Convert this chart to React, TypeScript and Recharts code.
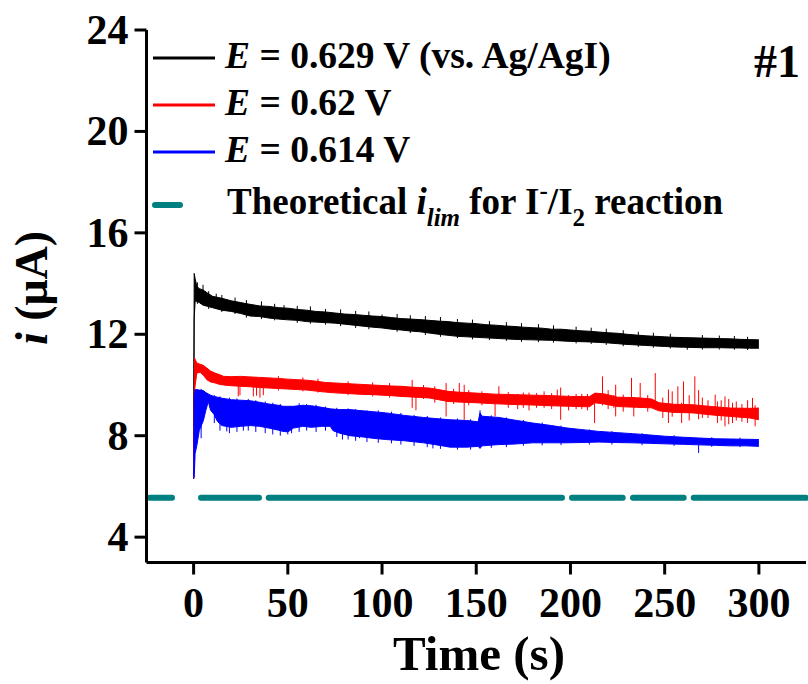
import React from 'react';
import { ComposedChart, Area, Line, XAxis, YAxis, ReferenceLine, Customized } from 'recharts';

const FONT = "'Liberation Serif', 'Times New Roman', Times, serif";

const xTicks = [0, 50, 100, 150, 200, 250, 300];
const yTicks = [4, 8, 12, 16, 20, 24];
const theoreticalILim = 5.55;

// E = 0.629 V  (black) : noise envelope
const blackT = [0, 0.3, 0.8, 1.7, 3, 5, 7.5, 10, 15, 20, 25, 30, 35, 40, 45, 50, 55, 60, 65, 70, 75, 80, 85, 90, 95, 100, 105, 110, 115, 120, 125, 130, 135, 140, 145, 150, 155, 160, 165, 170, 175, 180, 185, 190, 195, 200, 205, 210, 215, 220, 225, 230, 235, 240, 245, 250, 255, 260, 265, 270, 275, 280, 285, 290, 295, 300];
const blackLo = [6.3, 12.6, 13.3, 13.3, 13.25, 13.15, 13.1, 13.05, 12.95, 12.9, 12.82, 12.72, 12.7, 12.64, 12.6, 12.57, 12.55, 12.5, 12.48, 12.46, 12.44, 12.4, 12.36, 12.32, 12.28, 12.25, 12.2, 12.17, 12.13, 12.1, 12.05, 12.0, 11.96, 11.92, 11.9, 11.88, 11.86, 11.84, 11.82, 11.8, 11.79, 11.78, 11.77, 11.76, 11.74, 11.72, 11.71, 11.7, 11.68, 11.66, 11.63, 11.6, 11.58, 11.56, 11.54, 11.52, 11.5, 11.49, 11.48, 11.47, 11.47, 11.47, 11.46, 11.46, 11.45, 11.45];
const blackHi = [6.4, 14.4, 14.2, 13.9, 13.8, 13.75, 13.62, 13.5, 13.42, 13.32, 13.25, 13.18, 13.12, 13.1, 13.05, 13.03, 12.98, 12.95, 12.9, 12.88, 12.84, 12.8, 12.78, 12.75, 12.72, 12.7, 12.66, 12.62, 12.6, 12.58, 12.55, 12.52, 12.5, 12.46, 12.44, 12.42, 12.38, 12.36, 12.33, 12.31, 12.28, 12.26, 12.24, 12.2, 12.2, 12.17, 12.14, 12.12, 12.09, 12.06, 12.04, 12.0, 11.97, 11.94, 11.92, 11.9, 11.88, 11.87, 11.86, 11.85, 11.84, 11.83, 11.82, 11.8, 11.79, 11.78];
const blackSpikeT = [5, 12, 48, 100, 262, 2, 8, 15, 22, 28, 36, 43, 55, 62, 70, 78, 86, 93, 108, 115, 123, 131, 140, 148, 157, 166, 174, 183, 191, 203, 211, 219, 228, 236, 244, 253, 270, 279, 287, 294];
const blackSpikeLo = [13.3, 13.1, 12.7, 12.4, 11.39, 13.2, 13.0, 12.88, 12.8, 12.66, 12.6, 12.55, 12.45, 12.42, 12.38, 12.32, 12.25, 12.2, 12.1, 12.05, 11.97, 11.9, 11.85, 11.8, 11.77, 11.74, 11.7, 11.69, 11.67, 11.64, 11.62, 11.58, 11.53, 11.5, 11.47, 11.44, 11.4, 11.4, 11.39, 11.38];
const blackSpikeHi = [13.95, 13.6, 13.15, 12.78, 11.7, 14.05, 13.7, 13.55, 13.45, 13.35, 13.3, 13.2, 13.12, 13.1, 13.0, 12.98, 12.92, 12.9, 12.8, 12.75, 12.72, 12.68, 12.6, 12.58, 12.52, 12.48, 12.44, 12.4, 12.35, 12.3, 12.26, 12.22, 12.16, 12.1, 12.06, 12.02, 11.97, 11.95, 11.93, 11.9];

// E = 0.62 V (red)
const redT = [0, 0.5, 1.7, 3.4, 5, 7, 9, 11.4, 14, 16, 20, 25, 30, 35, 40, 45, 50, 55, 60, 65, 70, 75, 80, 85, 90, 95, 100, 105, 110, 115, 120, 125, 130, 135, 140, 150, 160, 170, 180, 190, 200, 210, 213, 218, 225, 235, 243, 247, 255, 265, 275, 285, 295, 300];
const redLo = [6.3, 9.8, 10.47, 10.5, 10.4, 10.21, 10.12, 10.08, 10.02, 10.0, 9.97, 9.95, 9.93, 9.9, 9.88, 9.86, 9.84, 9.82, 9.8, 9.76, 9.72, 9.69, 9.67, 9.65, 9.63, 9.62, 9.6, 9.58, 9.55, 9.53, 9.51, 9.49, 9.42, 9.35, 9.33, 9.3, 9.26, 9.23, 9.21, 9.18, 9.16, 9.14, 9.3, 9.25, 9.15, 9.12, 9.1, 8.98, 8.92, 8.9, 8.82, 8.76, 8.7, 8.63];
const redHi = [6.5, 11.06, 10.87, 10.82, 10.78, 10.67, 10.55, 10.47, 10.4, 10.34, 10.33, 10.34, 10.32, 10.3, 10.28, 10.26, 10.23, 10.21, 10.19, 10.15, 10.1, 10.08, 10.06, 10.04, 10.02, 10.0, 9.98, 9.96, 9.95, 9.92, 9.9, 9.88, 9.82, 9.75, 9.72, 9.68, 9.64, 9.62, 9.6, 9.58, 9.55, 9.54, 9.68, 9.65, 9.52, 9.5, 9.45, 9.3, 9.24, 9.22, 9.15, 9.09, 9.08, 9.09];
const redSpikeT = [23.7, 24.6, 31.7, 33.4, 35.2, 37, 116, 118, 134, 141, 143.6, 160, 162, 172, 178, 186, 193, 194.8, 199, 206, 212.8, 217, 223, 224, 232.4, 233.6, 237, 245, 252, 257, 259, 260, 266, 270, 276.8, 280, 282, 288, 296.6, 298, 45, 58, 66, 82, 95, 104, 122, 128, 138, 146, 153, 167, 175, 182, 190, 203, 209, 220, 228, 241, 249, 254, 263, 268, 273, 278, 284, 286, 291, 294];
const redSpikeLo = [9.55, 9.6, 9.55, 9.58, 9.5, 9.6, 9.1, 9.0, 8.76, 9.4, 8.63, 8.76, 9.3, 9.05, 9.0, 9.1, 9.2, 8.63, 9.0, 9.05, 8.5, 9.2, 9.1, 8.76, 9.15, 8.76, 9.1, 9.1, 8.5, 8.9, 8.5, 9.0, 8.95, 8.7, 8.8, 8.6, 8.37, 8.6, 8.7, 8.37, 9.78, 9.75, 9.7, 9.6, 9.55, 9.5, 9.45, 9.3, 9.25, 9.2, 9.2, 9.1, 9.1, 9.1, 9.05, 9.05, 9.0, 9.05, 8.95, 8.95, 8.7, 8.75, 8.6, 8.65, 8.7, 8.5, 8.45, 8.5, 8.55, 8.5];
const redSpikeHi = [10.0, 10.0, 9.97, 9.97, 9.95, 9.95, 10.2, 9.9, 10.08, 10.08, 10.01, 9.62, 9.95, 9.65, 9.7, 9.75, 9.82, 9.9, 9.6, 9.65, 9.5, 10.34, 9.6, 10.01, 10.28, 9.5, 10.08, 10.47, 9.82, 9.95, 9.3, 10.14, 10.34, 9.5, 9.62, 9.4, 9.55, 9.35, 9.49, 9.2, 10.35, 10.3, 10.25, 10.15, 10.1, 10.08, 10.0, 9.95, 9.85, 9.8, 9.75, 9.72, 9.7, 9.68, 9.68, 9.65, 9.65, 9.8, 9.62, 9.6, 9.5, 9.75, 9.6, 9.8, 9.4, 9.35, 9.45, 9.3, 9.25, 9.4];

// E = 0.614 V (blue)
const blueT = [0, 0.3, 0.8, 1.7, 3, 5.2, 6.5, 7.8, 9, 10.8, 12.6, 15, 20, 25, 30, 35, 40, 45, 47.5, 50, 53, 58, 62.5, 68, 72.5, 74, 77.5, 83, 90, 95, 102, 112, 122, 128, 136, 145, 151, 152, 153, 162, 170, 180, 190, 197.5, 205, 215, 225, 233, 242, 250, 260, 268, 277, 285, 293, 300];
const blueLo = [6.3, 6.35, 7.3, 7.6, 8.2, 8.6, 9.0, 9.35, 9.0, 8.85, 8.57, 8.4, 8.33, 8.37, 8.4, 8.37, 8.3, 8.22, 8.17, 8.15, 8.3, 8.37, 8.33, 8.37, 8.37, 8.2, 8.1, 8.0, 7.95, 7.9, 7.85, 7.8, 7.72, 7.65, 7.55, 7.55, 7.58, 7.5, 7.6, 7.65, 7.67, 7.72, 7.72, 7.72, 7.73, 7.75, 7.73, 7.72, 7.7, 7.68, 7.66, 7.64, 7.62, 7.6, 7.6, 7.58];
const blueHi = [6.4, 9.5, 9.82, 9.82, 9.8, 9.78, 9.7, 9.65, 9.6, 9.55, 9.52, 9.48, 9.42, 9.4, 9.38, 9.32, 9.25, 9.2, 9.16, 9.16, 9.16, 9.2, 9.18, 9.12, 9.06, 9.05, 9.03, 9.03, 8.98, 8.95, 8.9, 8.8, 8.72, 8.68, 8.63, 8.6, 8.55, 8.9, 8.77, 8.72, 8.62, 8.5, 8.4, 8.31, 8.25, 8.17, 8.12, 8.08, 8.03, 7.98, 7.94, 7.91, 7.88, 7.87, 7.86, 7.85];
const blueSpikeT = [17.6, 26.4, 50, 52, 79, 88, 127, 152, 268, 4, 11, 14, 19, 23, 29, 33, 38, 42, 46, 56, 60, 65, 70, 76, 82, 86, 92, 98, 105, 110, 117, 124, 131, 140, 147, 158, 166, 175, 185, 195, 210, 222, 238, 255, 275, 290];
const blueSpikeLo = [8.17, 8.2, 8.05, 8.1, 7.85, 7.9, 7.5, 7.6, 7.32, 7.9, 8.5, 8.2, 8.1, 8.15, 8.2, 8.15, 8.1, 8.05, 8.0, 8.15, 8.2, 8.15, 8.2, 7.95, 7.85, 7.8, 7.75, 7.72, 7.7, 7.65, 7.6, 7.55, 7.48, 7.45, 7.45, 7.52, 7.55, 7.6, 7.62, 7.63, 7.65, 7.65, 7.63, 7.6, 7.56, 7.55];
const blueSpikeHi = [8.6, 8.6, 8.5, 8.5, 8.3, 8.3, 8.0, 9.0, 7.8, 9.85, 9.6, 9.55, 9.5, 9.47, 9.45, 9.4, 9.35, 9.3, 9.25, 9.28, 9.25, 9.22, 9.15, 9.1, 9.08, 9.05, 9.0, 9.0, 8.95, 8.9, 8.82, 8.78, 8.72, 8.68, 8.65, 8.8, 8.72, 8.62, 8.52, 8.4, 8.25, 8.18, 8.1, 8.02, 7.94, 7.92];

const band = (t: number[], lo: number[], hi: number[]) =>
  t.map((v, i) => ({ t: v, band: [lo[i], hi[i]] }));
const spikes = (t: number[], lo: number[], hi: number[]) =>
  t.flatMap((v, i) => [
    { t: v, v: lo[i] },
    { t: v, v: hi[i] },
    { t: v, v: null },
  ]);

const blackBand = band(blackT, blackLo, blackHi);
const redBand = band(redT, redLo, redHi);
const blueBand = band(blueT, blueLo, blueHi);
const blackSpikes = spikes(blackSpikeT, blackSpikeLo, blackSpikeHi);
const redSpikes = spikes(redSpikeT, redSpikeLo, redSpikeHi);
const blueSpikes = spikes(blueSpikeT, blueSpikeLo, blueSpikeHi);

const BLACK = '#000000';
const RED = '#ff0000';
const BLUE = '#0000ff';
const TEAL = '#008080';

const XTick = (props: any) => (
  <text x={props.x} y={props.y + 40} textAnchor="middle" fontFamily={FONT} fontWeight="bold" fontSize={42} fill="#000">
    {props.payload.value}
  </text>
);
const YTick = (props: any) => (
  <text x={props.x} y={props.y + 14} textAnchor="end" fontFamily={FONT} fontWeight="bold" fontSize={42} fill="#000">
    {props.payload.value}
  </text>
);

const Overlay = () => (
  <g fontFamily={FONT} fontWeight="bold" fill="#000">
    {/* axis titles */}
    <text x={479} y={670} textAnchor="middle" fontSize={49}>Time (s)</text>
    <text x={47} y={288} textAnchor="middle" fontSize={46} transform="rotate(-90, 47, 288)">
      <tspan fontStyle="italic">i</tspan> (μA)
    </text>
    <text x={800} y={77} textAnchor="end" fontSize={46}>#1</text>
    {/* legend */}
    <line x1={153} x2={215} y1={58} y2={58} stroke={BLACK} strokeWidth={3} />
    <line x1={153} x2={215} y1={105} y2={105} stroke={RED} strokeWidth={3} />
    <line x1={153} x2={215} y1={152} y2={152} stroke={BLUE} strokeWidth={3} />
    <line x1={155} x2={180} y1={205} y2={205} stroke={TEAL} strokeWidth={6} strokeLinecap="round" />
    <text x={225} y={68} fontSize={37.5}>
      <tspan fontStyle="italic">E</tspan> = 0.629 V (vs. Ag/AgI)
    </text>
    <text x={225} y={115} fontSize={37.5}>
      <tspan fontStyle="italic">E</tspan> = 0.62 V
    </text>
    <text x={225} y={162} fontSize={37.5}>
      <tspan fontStyle="italic">E</tspan> = 0.614 V
    </text>
    <text x={227} y={214} fontSize={37}>
      Theoretical <tspan fontStyle="italic">i</tspan>
      <tspan fontStyle="italic" fontSize={25} dy={12}>lim</tspan>
      <tspan dy={-12}> for I</tspan>
      <tspan fontSize={25} dy={-15}>-</tspan>
      <tspan dy={15}>/I</tspan>
      <tspan fontSize={25} dy={12}>2</tspan>
      <tspan dy={-12}> reaction</tspan>
    </text>
  </g>
);

const axisStyle = { stroke: '#000', strokeWidth: 3 };

export default function App() {
  return (
    <div style={{ position: 'absolute', left: 0, top: 0, width: 808, height: 684, background: '#fff' }}>
      <ComposedChart width={808} height={684} margin={{ top: 30, right: 2, bottom: 0, left: 0 }}>
        <XAxis
          xAxisId={0}
          dataKey="t"
          type="number"
          domain={[-25, 325]}
          ticks={xTicks}
          interval={0}
          allowDataOverflow
          height={121.5}
          tickSize={12}
          tickMargin={2}
          axisLine={axisStyle}
          tickLine={axisStyle}
          tick={<XTick />}
        />
        <XAxis
          xAxisId="top"
          orientation="top"
          type="number"
          domain={[-25, 325]}
          height={0}
          tick={false}
          tickLine={false}
          axisLine={axisStyle}
        />
        <YAxis
          yAxisId={0}
          type="number"
          domain={[3, 24]}
          ticks={yTicks}
          interval={0}
          allowDataOverflow
          width={146.5}
          tickSize={12}
          tickMargin={6}
          axisLine={axisStyle}
          tickLine={axisStyle}
          tick={<YTick />}
        />
        <YAxis
          yAxisId="right"
          orientation="right"
          type="number"
          domain={[3, 24]}
          width={0}
          tick={false}
          tickLine={false}
          axisLine={axisStyle}
        />
        <Area data={blackBand} dataKey="band" type="linear" stroke={BLACK} strokeWidth={1} fill={BLACK} fillOpacity={1} isAnimationActive={false} dot={false} activeDot={false} />
        <Line data={blackSpikes} dataKey="v" type="linear" stroke={BLACK} strokeWidth={1} dot={false} activeDot={false} isAnimationActive={false} />
        <Area data={redBand} dataKey="band" type="linear" stroke={RED} strokeWidth={1} fill={RED} fillOpacity={1} isAnimationActive={false} dot={false} activeDot={false} />
        <Line data={redSpikes} dataKey="v" type="linear" stroke={RED} strokeWidth={1} dot={false} activeDot={false} isAnimationActive={false} />
        <Area data={blueBand} dataKey="band" type="linear" stroke={BLUE} strokeWidth={1} fill={BLUE} fillOpacity={1} isAnimationActive={false} dot={false} activeDot={false} />
        <Line data={blueSpikes} dataKey="v" type="linear" stroke={BLUE} strokeWidth={1} dot={false} activeDot={false} isAnimationActive={false} />
        <ReferenceLine
          y={theoreticalILim}
          stroke={TEAL}
          strokeWidth={6}
          strokeLinecap="round"
          strokeDasharray="22.3 29 58 9.7 293.3 10 50.7 10.3 50.7 10 130 100"
          strokeDashoffset={-3.2}
        />
        <Customized component={Overlay} />
      </ComposedChart>
    </div>
  );
}
